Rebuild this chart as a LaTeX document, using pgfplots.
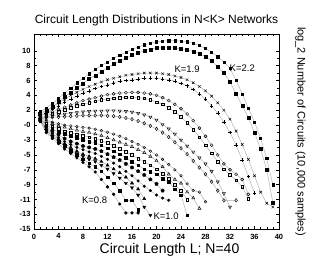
\documentclass[border=0pt]{standalone}
\usepackage{pgfplots}
\pgfplotsset{compat=1.18}
\usepackage{fontspec}
\setmainfont{Liberation Sans}
\begin{document}
\begin{tikzpicture}
\path[use as bounding box] (-34pt,-32.7pt) rectangle (280pt,229.3pt);
\begin{axis}[
  scale only axis, width=245pt, height=195.3pt,
  xmin=0, xmax=40, ymin=-15, ymax=11.25,
  xtick={0,4,...,40}, minor x tick num=3,
  ytick={-15,-13,...,9}, minor y tick num=1,
  yticklabels={-15,-13,-11,-9,-7,-5,-3,-0,2,4,6,8,10},
  tick align=inside, tick pos=both,
  major tick length=3pt, minor tick length=1.8pt,
  tick style={black, line width=0.4pt},
  axis line style={line width=0.5pt},
  tick label style={font=\fontsize{7.5}{8}\selectfont\bfseries},
  /pgf/number format/assume math mode=true,
  xticklabel style={yshift=-1pt},
  every axis plot/.append style={gray!65, line width=0.45pt, mark options={black, solid}},
  clip=false,
]
% K=2.2 pair
\addplot[mark=square*, mark size=1.1pt] coordinates {(1,0.8)(2,1.3)(3,1.9)(4,2.6)(5,3.3)(6,4.0)(7,4.7)(8,5.3)(9,5.9)(10,6.5)(11,7.0)(12,7.5)(13,8.0)(14,8.4)(15,8.8)(16,9.2)(17,9.5)(18,9.8)(19,10.0)(20,10.2)(21,10.3)(22,10.35)(23,10.35)(24,10.3)(25,10.2)(26,10.0)(27,9.7)(28,9.3)(29,8.8)(30,8.2)(31,7.5)(32,6.6)(33,5.0)(34,3.2)(35,1.3)(36,-0.6)(37,-2.8)(38,-5.5)(39,-9.0)};
\addplot[mark=square*, mark size=1.5pt] coordinates {(1,0.6)(2,1.0)(3,1.5)(4,2.1)(5,2.8)(6,3.4)(7,4.0)(8,4.6)(9,5.2)(10,5.7)(11,6.2)(12,6.7)(13,7.2)(14,7.6)(15,8.0)(16,8.4)(17,8.7)(18,9.0)(19,9.2)(20,9.35)(21,9.4)(22,9.4)(23,9.35)(24,9.3)(25,9.1)(26,8.9)(27,8.6)(28,8.2)(29,7.6)(30,6.9)(31,6.0)(32,4.8)(33,3.2)(34,1.6)(35,0.0)(36,-2.0)(37,-4.2)(38,-7.0)(39,-11.4)};
% K=1.9 pair
\addplot[mark=x, mark size=1.8pt] coordinates {(1,0.5)(2,0.9)(3,1.4)(4,2.0)(5,2.5)(6,3.0)(7,3.4)(8,3.8)(9,4.2)(10,4.5)(11,4.8)(12,5.1)(13,5.3)(14,5.5)(15,5.7)(16,5.8)(17,5.9)(18,6.0)(19,6.0)(20,6.0)(21,5.9)(22,5.8)(23,5.6)(24,5.4)(25,5.1)(26,4.7)(27,4.2)(28,3.6)(29,2.9)(30,2.0)(31,1.0)(32,-0.2)(33,-1.8)(34,-3.6)(35,-5.6)(36,-7.8)(37,-10.0)(38,-11.5)(39,-12.0)};
\addplot[mark=+, mark size=1.8pt] coordinates {(1,0.3)(2,0.6)(3,1.1)(4,1.6)(5,2.1)(6,2.5)(7,2.9)(8,3.3)(9,3.6)(10,3.9)(11,4.2)(12,4.4)(13,4.7)(14,4.9)(15,5.0)(16,5.1)(17,5.2)(18,5.3)(19,5.3)(20,5.3)(21,5.2)(22,5.1)(23,4.9)(24,4.6)(25,4.3)(26,3.8)(27,3.2)(28,2.5)(29,1.6)(30,0.6)(31,-0.6)(32,-2.0)(33,-3.7)(34,-5.7)(35,-7.9)(36,-10.1)};
% circles / open squares
\addplot[mark=o, mark size=1.5pt] coordinates {(1,0.3)(2,0.5)(3,0.8)(4,1.1)(5,1.4)(6,1.7)(7,2.0)(8,2.3)(9,2.5)(10,2.7)(11,2.9)(12,3.1)(13,3.2)(14,3.3)(15,3.35)(16,3.4)(17,3.4)(18,3.3)(19,3.2)(20,3.0)(21,2.7)(22,2.3)(23,1.8)(24,1.2)(25,0.5)(26,-0.4)(27,-1.4)(28,-2.5)(29,-3.7)(30,-5.0)(31,-6.2)(32,-7.0)(33,-7.6)(34,-8.3)(35,-10.3)};
\addplot[mark=square, mark size=1.3pt] coordinates {(1,0.1)(2,0.3)(3,0.5)(4,0.8)(5,1.1)(6,1.3)(7,1.6)(8,1.8)(9,2.0)(10,2.2)(11,2.4)(12,2.5)(13,2.6)(14,2.7)(15,2.75)(16,2.75)(17,2.7)(18,2.6)(19,2.4)(20,2.1)(21,1.8)(22,1.3)(23,0.8)(24,0.1)(25,-0.7)(26,-1.6)(27,-2.6)(28,-3.7)(29,-4.8)(30,-5.9)(31,-6.9)(32,-7.7)(33,-8.4)(34,-9.3)(35,-10.9)};
% triangles down / diamonds
\addplot[mark=triangle, mark size=1.8pt, mark options={black, solid, rotate=180}] coordinates {(1,0.0)(2,0.1)(3,0.25)(4,0.4)(5,0.5)(6,0.6)(7,0.7)(8,0.8)(9,0.85)(10,0.9)(11,0.9)(12,0.95)(13,0.95)(14,0.9)(15,0.85)(16,0.75)(17,0.6)(18,0.4)(19,0.1)(20,-0.3)(21,-0.9)(22,-1.5)(23,-2.2)(24,-3.0)(25,-3.8)(26,-4.6)(27,-5.4)(28,-6.2)(29,-7.2)(30,-8.6)(31,-10.2)(32,-12.0)};
\addplot[mark=diamond, mark size=1.8pt] coordinates {(1,-0.1)(2,0.0)(3,0.05)(4,0.1)(5,0.15)(6,0.2)(7,0.25)(8,0.3)(9,0.3)(10,0.3)(11,0.3)(12,0.25)(13,0.2)(14,0.1)(15,-0.05)(16,-0.2)(17,-0.45)(18,-0.75)(19,-1.1)(20,-1.5)(21,-2.0)(22,-2.6)(23,-3.3)(24,-4.1)(25,-4.9)(26,-5.8)(27,-6.7)(28,-7.6)(29,-8.6)(30,-9.8)(31,-11.1)(33,-11.1)};
% small circles / triangles up
\addplot[mark=o, mark size=1.3pt] coordinates {(1,0.2)(2,-0.3)(3,-0.6)(4,-0.8)(5,-1.0)(6,-1.1)(7,-1.2)(8,-1.3)(9,-1.4)(10,-1.55)(11,-1.75)(12,-1.95)(13,-2.2)(14,-2.5)(15,-2.8)(16,-3.2)(17,-3.6)(18,-4.0)(19,-4.5)(20,-5.0)(21,-5.6)(22,-6.3)(23,-7.0)(24,-7.8)(25,-8.9)(26,-9.8)(27,-10.0)(28,-11.3)};
\addplot[mark=triangle, mark size=1.8pt] coordinates {(1,0.0)(2,-0.5)(3,-0.8)(4,-1.1)(5,-1.3)(6,-1.5)(7,-1.7)(8,-1.85)(9,-2.0)(10,-2.2)(11,-2.4)(12,-2.7)(13,-3.0)(14,-3.3)(15,-3.6)(16,-3.9)(17,-4.3)(18,-4.7)(19,-5.2)(20,-5.8)(21,-6.6)(22,-7.6)(23,-8.3)(24,-8.8)(25,-10.0)(26,-10.8)(27,-12.2)};
% open squares / filled squares
\addplot[mark=square, mark size=1.3pt] coordinates {(1,-0.1)(2,-0.8)(3,-1.2)(4,-1.5)(5,-1.8)(6,-2.0)(7,-2.2)(8,-2.4)(9,-2.6)(10,-2.8)(11,-3.1)(12,-3.4)(13,-3.8)(14,-4.2)(15,-4.6)(16,-5.0)(17,-5.5)(18,-5.9)(19,-6.4)(20,-6.9)(21,-7.5)(22,-8.2)(23,-9.0)(24,-9.8)(25,-11.0)};
\addplot[mark=square*, mark size=1.3pt] coordinates {(1,-0.2)(2,-1.0)(3,-1.5)(4,-1.9)(5,-2.2)(6,-2.5)(7,-2.7)(8,-3.0)(9,-3.2)(10,-3.4)(11,-3.7)(12,-4.1)(13,-4.5)(14,-4.9)(15,-5.4)(16,-5.9)(17,-6.4)(18,-6.9)(19,-7.3)(20,-7.6)(21,-8.2)(22,-8.6)(23,-9.6)(24,-10.4)(25,-13.1)};
% filled hexagon-like / filled circles
\addplot[mark=pentagon*, mark size=1.8pt] coordinates {(1,-0.2)(2,-1.2)(3,-1.8)(4,-2.3)(5,-2.8)(6,-3.2)(7,-3.5)(8,-3.8)(9,-4.0)(10,-4.2)(11,-4.5)(12,-4.9)(13,-5.3)(14,-5.7)(15,-6.2)(16,-6.7)(17,-7.2)(18,-7.7)(19,-8.3)(20,-8.9)(21,-9.8)};
\addplot[mark=*, mark size=1.3pt] coordinates {(1,-0.3)(2,-1.4)(3,-2.1)(4,-2.7)(5,-3.2)(6,-3.6)(7,-4.0)(8,-4.3)(9,-4.6)(10,-4.8)(11,-5.2)(12,-5.6)(13,-6.1)(14,-6.6)(15,-7.2)(16,-7.8)(17,-8.5)(18,-9.2)(19,-9.8)(20,-10.4)(21,-10.8)(22,-11.1)};
% K=1.0 pair
\addplot[mark=triangle*, mark size=1.8pt] coordinates {(1,-0.3)(2,-1.5)(3,-2.3)(4,-2.9)(5,-3.5)(6,-4.0)(7,-4.5)(8,-4.9)(9,-5.2)(10,-5.5)(11,-5.9)(12,-6.4)(13,-6.9)(14,-7.4)(15,-8.0)(16,-8.8)(17,-9.6)(18,-10.9)};
\addplot[mark=triangle*, mark size=1.8pt, mark options={black, solid, rotate=180}] coordinates {(1,-0.4)(2,-1.7)(3,-2.5)(4,-3.1)(5,-3.7)(6,-4.3)(7,-4.8)(8,-5.2)(9,-5.6)(10,-5.9)(11,-6.4)(12,-6.9)(13,-7.5)(14,-8.1)(15,-8.8)(16,-9.4)(17,-10.4)(18,-12.0)(19,-13.1)};
% K=0.8 pair
\addplot[mark=square*, mark size=1.3pt] coordinates {(1,-0.4)(2,-1.8)(3,-2.5)(4,-3.2)(5,-3.8)(6,-4.4)(7,-5.0)(8,-5.6)(9,-6.1)(10,-6.6)(11,-7.2)(12,-8.0)(13,-8.8)(14,-9.8)(15,-11.1)(16,-11.1)(17,-12.4)};
\addplot[mark=*, mark size=1.4pt] coordinates {(1,-0.5)(2,-2.0)(3,-2.8)(4,-3.5)(5,-4.2)(6,-4.8)(7,-5.4)(8,-6.0)(9,-6.6)(10,-7.3)(11,-8.3)(12,-9.3)(13,-10.3)(14,-11.6)(15,-12.8)(16,-12.8)(17,-12.8)};
% labels
\node[font=\fontsize{9.5}{10}\selectfont] at (axis cs:9.9,-11.05) {K=0.8};
\node[font=\fontsize{9.5}{10}\selectfont, anchor=west, inner sep=0.5pt] at (axis cs:19.4,-13.2) {K=1.0};
\node[font=\fontsize{9.5}{10}\selectfont] at (axis cs:25,6.55) {K=1.9};
\node[font=\fontsize{9.5}{10}\selectfont] at (axis cs:34,6.7) {K=2.2};
\node[font=\fontsize{12}{14}\selectfont] at (rel axis cs:0.5,1.072) {Circuit Length Distributions in N<K> Networks};
\node[font=\fontsize{14}{16}\selectfont] at ([yshift=-21pt,xshift=13pt]rel axis cs:0.5,0) {Circuit Length L; N=40};
\node[font=\fontsize{11}{13}\selectfont, rotate=-90] at (rel axis cs:1.088,0.5) {log\_2 Number of Circuits (10,000 samples)};
\end{axis}
\end{tikzpicture}
\end{document}
